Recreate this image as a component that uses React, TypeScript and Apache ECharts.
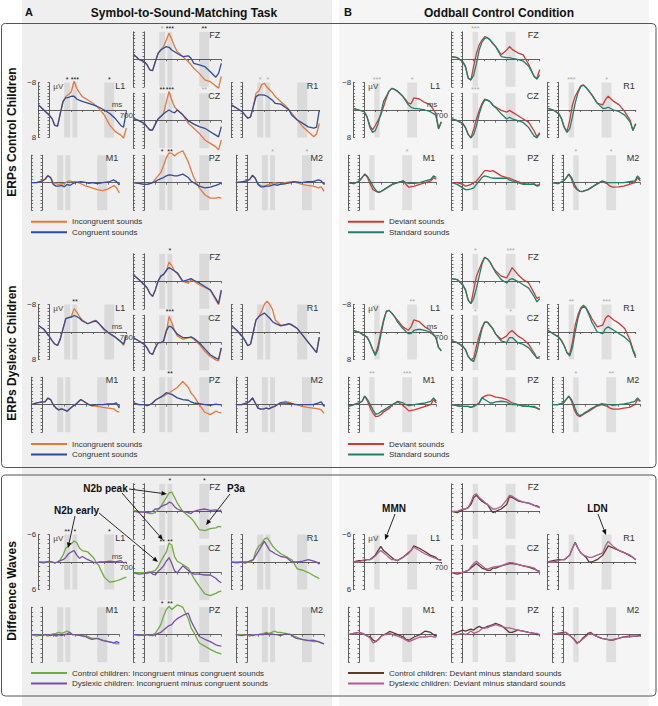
import React, { useEffect, useRef } from 'react';
import * as echarts from 'echarts';

// ---------- DATA ----------
const TIMES = [-100, -50, 0, 25, 50, 75, 100, 125, 150, 175, 200, 225, 250, 275, 300, 350, 400, 425, 450, 500, 550, 600, 650, 675, 700];
const ELECTRODES = ['FZ', 'L1', 'CZ', 'R1', 'M1', 'PZ', 'M2'];

// A: Symbol-to-sound matching, control children
const A_CTRL_INCONGRUENT = {
  FZ: [-1.5, 0, 0.7, 1.6, 3.1, 3.3, 0.7, -1.7, -2.7, -3.7, -5.6, -7.6, -5.8, -3.7, -2.2, -0.8, 0.7, 1.6, 2.6, 4.1, 6, 6.5, 7.8, 8.4, 5],
  L1: [-1.5, 0, 1.5, 2.5, 4.5, 4.7, 1, -2.5, -3.9, -4.5, -5.3, -8.4, -6.3, -5, -3.9, -2.9, -1.9, -1.2, -0.5, 1.5, 4.4, 6.3, 7.3, 8.2, 5.3],
  CZ: [-0.7, 0, 0.8, 1.8, 2.7, 2.7, 1, -0.5, -1.2, -2.1, -5.5, -8.5, -6, -4, -3.1, -1.7, 0.8, 1.5, 2.2, 3.7, 5.6, 6.6, 7.6, 8.5, 5.6],
  R1: [-1.5, -0.5, 0.5, 1.5, 2.4, 2, -1, -4.9, -5.5, -7.3, -7.8, -6.6, -5.8, -5, -3.9, -2.4, -1, 0, 1, 2.9, 4.9, 6.3, 7.8, 7, 3.9],
  M1: [0, 0, -0.5, -1, -2.2, -1.5, 0, 0.3, 0.5, 0.3, 0.3, -0.3, -0.5, -0.3, -0.3, 0.3, 1, 1.2, 1.5, 2, 2.3, 1.8, 0.8, 1.5, 3],
  PZ: [0, 0.2, 0.5, 0.5, 0.3, 0, -1, -2, -3, -5, -7.3, -8.7, -8.5, -7.8, -8.5, -9.3, -6, -3.7, -1.5, 1.5, 3.5, 4.5, 4.5, 4.3, 4.5],
  M2: [0, -0.2, -0.5, -1, -2, -1.3, 0.3, 0.8, 1, 0.8, 0.5, 0.3, 0, 0.3, 0.5, 0, -0.3, -0.2, 0, 0.5, 0.8, 1, 1.5, 1.2, 2.5],
};
const A_CTRL_CONGRUENT = {
  FZ: [-1.5, 0, 0.7, 1.6, 3.1, 3.3, 0.7, -1.7, -2.7, -3.2, -3.7, -3.5, -2.7, -2.2, -1.7, -0.8, -1, -0.3, 1.2, 1.6, 2.1, 3.6, 5.2, 4.1, 1.2],
  L1: [-1.5, 0, 1.5, 2.5, 4.5, 4.7, 1, -2.5, -3.5, -3.7, -4, -4, -3.2, -2.8, -2.5, -2, -1.5, -1.2, -0.8, 0, 1, 2.5, 4.5, 5, 0.5],
  CZ: [-0.7, 0, 0.8, 1.8, 2.7, 2.7, 1, -0.5, -1.2, -2, -2.6, -3.1, -2.6, -2.3, -3.1, -1.7, 0, 0.5, 1, 1.7, 2.2, 3.2, 4.2, 4.7, 1.7],
  R1: [-1.5, -0.5, 0.5, 1.5, 2.4, 2, -1, -3.9, -4.4, -4.4, -4.3, -4, -3.4, -2.8, -1.9, -1.7, -0.6, 0, 1.5, 2.9, 3.9, 4.9, 5.3, 5, 0],
  M1: [0, 0, -0.5, -1, -2, -1.5, 0.5, 1, 1, 0.8, 1.2, 0.5, 0.8, 0.3, 0, -0.3, 0, 0.2, 0, 0.3, 0, -0.2, -0.8, -0.3, 0.7],
  PZ: [0, 0.2, 0.5, 0.5, 0.3, 0, -0.3, -0.8, -1.2, -1.5, -2, -2.3, -2.2, -2, -2, -2.5, -1.5, -0.5, 0, 1, 1.5, 1.3, 0.8, 0.5, 0],
  M2: [0, -0.2, -0.5, -1, -2.2, -1.3, 0.5, 1.2, 1.2, 1, 1, 0.8, 0.5, 0.8, 0.5, 0.3, 0, -0.3, -0.2, 0, -0.3, -0.3, -0.8, -0.5, 0.5],
};
// A: dyslexic children
const A_DYS_INCONGRUENT = {
  FZ: [-1.9, -0.5, 1, 1.9, 3.5, 4.4, 2.5, 0, -1.5, -2, -3, -5.6, -4.5, -3, -2.2, 0, 0.5, -0.5, 0, 1, 1.8, 2.6, 5.5, 6.8, 2.9],
  L1: [-1.9, -0.8, 1.3, 2.5, 3.5, 3.9, 2, -1, -3.9, -4.2, -4.5, -6.8, -5.8, -4.5, -3.5, -2.4, -3.2, -3.4, -2.5, -0.5, 0.5, 1.5, 2.8, 3.9, 1.5],
  CZ: [-1.5, -0.5, 0.5, 1.5, 3, 3.4, 1.5, 0, 0, -0.5, -3, -7.6, -5.8, -3.5, -2, -1, -1.5, -1.5, -1, 0.5, 2.5, 4, 5, 5.3, 1.5],
  R1: [-1.9, -0.5, 1.3, 2.5, 4, 3.5, 0, -3.5, -4.5, -6, -8, -9, -8, -6.5, -3.5, -2, -2, -2.4, -2.2, -1, 1, 3, 5, 6, 1.5],
  M1: [0, -0.5, -0.8, -0.8, -1.9, -1.5, 0, 1, 1.5, 1.2, 1.5, 1.9, 1.2, 0.5, 0, -1.5, -0.5, 0, 0.3, 0.5, 0.8, 1, 1.2, 1.9, 2.2],
  PZ: [-0.5, 0, 0, 0.3, 0, -0.5, -1.3, -1.8, -2.2, -2.5, -3, -3.4, -4, -4.5, -5, -6.8, -5, -3.4, -2.5, 0, 2.2, 2.9, 1.9, 2.2, 2.4],
  M2: [0, 0, -0.5, -1, -2, -0.5, 1, 1.3, 1.2, 1, 1.2, 0.8, 0.5, 0, -0.5, -1, -0.5, 0, 0, 0.5, 0.8, 1, 1.2, 1.5, 2.5],
};
const A_DYS_CONGRUENT = {
  FZ: [-1.9, -0.5, 1, 1.9, 3.5, 4.4, 2.5, 0, -1.5, -2, -3.2, -4, -3.5, -3, -2.5, 0, -0.5, -0.8, -0.3, 0.5, 1.5, 2.5, 5, 6.5, 2.5],
  L1: [-1.9, -0.8, 1.3, 2.5, 3.5, 3.9, 2, -1, -3.9, -4.2, -4.3, -4.8, -4.5, -4, -3.2, -2.4, -3, -3.2, -2.5, -0.8, 0.5, 1.5, 2.8, 3.5, 1],
  CZ: [-1.5, -0.5, 0.5, 1.5, 3, 3.4, 1.5, 0, 0, -0.5, -3.5, -4.8, -4.5, -3.5, -2.5, -1.5, -1.5, -1.7, -1.3, 0, 1.8, 3.5, 4.5, 4.8, 1.5],
  R1: [-1.9, -0.5, 1.3, 2.5, 4, 3.5, 0, -3.5, -4.5, -5, -5.5, -4.8, -4, -3, -2.5, -1.8, -2.2, -2.4, -2, -1, 1, 3, 5, 6, 1.5],
  M1: [0, -0.5, -0.8, -0.8, -1.9, -1.5, 0, 1, 1.5, 1.2, 1.5, 1.9, 1.2, 0.5, 0, -1.5, -0.5, 0, 0.3, 0, 0, -0.2, -0.3, -0.5, 1],
  PZ: [-0.5, 0, 0, 0.3, 0, -0.5, -1.3, -1.8, -2.2, -2.8, -3.5, -3.2, -3, -2.5, -2, -1.5, -1.3, -0.8, -0.5, -0.3, 0, 0.2, -0.2, 0, 0],
  M2: [0, 0, -0.5, -1, -2, -0.5, 1, 1.3, 1.2, 1, 1.2, 0.8, 0.5, 0, -0.5, -0.5, -0.3, -0.2, 0, 0, 0, 0, -0.5, -0.8, 0.5],
};
// A: difference waves (incongruent minus congruent)
const A_DIFF_CONTROL = {
  FZ: [-0.2, 0, 0.1, 0.3, 0.5, 0.5, 0.2, -0.3, -1, -2, -3, -4, -4.2, -3, -1.8, 0, 1, 1.5, 2.2, 4, 4.2, 3.8, 3.6, 3.3, 3.4],
  L1: [0, 0, 0, 0, 0.2, 0, -0.5, -1.5, -3, -3.5, -4, -4.6, -4.2, -3, -2.5, -2.2, -1, 0, 0.8, 3.3, 4.4, 4.2, 3.8, 3.5, 3.3],
  CZ: [0, 0, 0, 0.2, 0, -0.3, -0.5, -1.3, -2.5, -3.5, -4.5, -6.5, -6, -3.5, -2.5, -1.8, -1, 0, 1.2, 3, 4.6, 5, 4.5, 4.2, 4],
  R1: [0, 0, 0, 0.3, 0, 0, -0.5, -2.5, -3.5, -4, -5, -5.3, -4.5, -3.5, -2.8, -1.8, -1.2, -0.8, -0.5, 1.5, 1.8, 2.3, 3, 3.3, 3.6],
  M1: [0, 0.3, 0, 0, 0.3, 0, -0.2, -0.3, -0.5, -0.3, -0.5, -0.8, -0.5, 0, 0, 0.2, 0.3, 0.5, 0.8, 0.8, 1.2, 1.5, 1.8, 2, 2],
  PZ: [0, 0.2, 0, 0, 0.2, 0, -0.3, -1.2, -2.2, -4, -5.5, -6.2, -5.5, -6, -6.5, -6, -3.5, -1.5, -0.5, 1.8, 2.5, 3.2, 3.8, 4, 4.2],
  M2: [0, 0, 0, 0.3, 0, 0, 0, -0.2, -0.3, -0.5, -0.3, -0.5, -0.8, -0.5, -0.5, -0.3, 0, 0.3, 0.5, 1, 1.2, 1.5, 1.5, 1.8, 2],
};
const A_DIFF_DYSLEXIC = {
  FZ: [0, 0.2, 0.2, 0.3, 0.2, 0, -0.5, -0.5, -1, -1.3, -1.5, -2, -1.8, -1, -0.5, 0, 0.3, 0.5, 0, -0.3, -0.5, -0.2, -0.3, 0, -0.3],
  L1: [0, 0.2, -0.2, 0, 0.2, 0, -0.3, -0.5, -1, -1.8, -2.2, -2.5, -1.5, -0.8, -1.2, -0.5, 0, 0.2, 0, 0, -0.2, 0, -0.3, 0.2, 0],
  CZ: [0, 0.3, 0.2, 0, -0.2, 0.3, 0.5, -0.3, -0.8, -1.5, -2.5, -3.3, -2, -0.4, 0, -1.5, -0.5, 0, 0.3, 0.3, 0.5, 0.5, 1.2, 1.8, 2.2],
  R1: [0, 0.2, 0, 0, 0, -0.3, -0.5, -1.5, -2.5, -3.5, -4.5, -3.5, -2.5, -2.2, -1.8, -1.2, -1, -0.5, 0, 0, -0.2, -0.5, -0.2, 0, 0.5],
  M1: [0, 0, 0.2, 0, 0, 0.2, 0, 0.3, 0, 0.2, 0, -0.2, -0.5, 0, 0, 0.2, 0.5, 0.8, 1, 0.8, 1.3, 1.5, 1.8, 1.5, 1.8],
  PZ: [0, 0, 0.2, 0, 0, 0.2, 0, -0.3, -0.5, -1, -1.5, -2, -2.2, -3, -3.5, -4.2, -4.7, -3, -1.8, 0.4, 1, 1.5, 2.2, 2.4, 2.5],
  M2: [0, 0.2, 0, 0, 0.2, 0, 0, 0, 0, -0.3, 0, -0.2, 0, 0, 0.2, -0.2, 0, 0.5, 0.8, 1, 1.3, 1.2, 1.5, 1.8, 2],
};
// B: Oddball control condition, control children
const B_CTRL_DEVIANT = {
  FZ: [-0.8, -0.5, 0.7, 2, 5.5, 6, 2, -1.7, -4.2, -5.6, -6.6, -6.3, -5.6, -4.6, -3.7, -1.3, -2.7, -3.7, -2.9, -1.9, -1.3, 1.5, 5, 5.5, 3],
  L1: [-0.5, 0, 0.5, 2, 4.5, 5.8, 4.5, 3, 1.5, -1, -3.4, -5.5, -6.3, -6, -5.5, -4, -2, -1.8, -3.5, -3.2, -2.2, -1.5, 1, 5.3, 3.4],
  CZ: [-0.5, 0, 0.8, 2, 4, 5, 2.5, -0.5, -3, -5, -6.3, -6, -5.5, -4.5, -4, -3, -2.5, -3, -2.5, -1.5, -0.5, 0.5, 3, 4.7, 3.5],
  R1: [-0.5, 0, 1, 2.5, 5, 6.3, 3, -1.5, -4, -5.5, -7, -7.3, -6.5, -5.5, -4.5, -2, -1.5, -3, -4, -2.5, -1.5, 0.5, 3, 6, 4],
  M1: [0, 0.3, -0.5, -1.5, -2.5, -1.5, 0.5, 2, 2.5, 2.8, 2.5, 2, 1.5, 1, 0.5, 0, -0.5, 0.5, 1.3, 1, 0.5, 0, -0.5, -1.5, -1],
  PZ: [0, 0, 0.5, 1, 0.8, 0.5, 0, -0.5, -1.5, -2.5, -3.5, -3.5, -3.3, -3.5, -3, -2, -1.5, -1.3, -1, -0.3, 0.2, 0.5, 0.3, 0.8, 0.5],
  M2: [0, 0.3, -0.5, -1.3, -2.5, -1, 1.2, 2, 2.5, 2.5, 2.2, 2, 1.5, 1, 0.5, -0.3, 0.3, 1, 1.3, 1.2, 1, 0.5, 0, -1.5, -0.5],
};
const B_CTRL_STANDARD = {
  FZ: [-0.8, -0.5, 0.7, 2.2, 5.5, 6, 4.6, 1.2, -2.7, -5, -6.1, -6.3, -5.6, -4.6, -3.7, -0.8, -0.5, -0.5, -0.3, 0, 0.5, 2, 5, 5.8, 4.5],
  L1: [-0.5, 0, 0.5, 2, 5, 6.5, 6, 4, 1, -2.5, -4, -5.5, -6.3, -6, -5.5, -4, -1.5, -0.8, -0.5, -0.3, 0, 0.5, 1.5, 5.5, 3.5],
  CZ: [-0.5, 0, 0.8, 2, 4, 5, 4, 1.5, -2, -4.5, -6, -6, -5.5, -4.5, -3.8, -2, -0.5, -1, -0.5, 0, 0.5, 2, 4.5, 5, 3.8],
  R1: [-0.5, 0, 1, 2.5, 5, 6.5, 5.5, 2, -2, -5, -6.8, -7.2, -6.5, -5.5, -4.5, -2, -0.5, -0.5, -0.8, 0, 0.5, 1.5, 3.5, 6, 4],
  M1: [0, 0.3, -0.5, -1.5, -2.5, -1.8, -0.5, 1, 2.2, 2.8, 2.5, 2, 1.5, 1, 0.5, 0, -0.5, 0, 0.2, 0.2, 0, -0.5, -1, -2, -1.5],
  PZ: [0, 0.5, 1.5, 2, 2, 1.8, 1.5, 0.5, -0.5, -1.5, -2, -1.8, -1.5, -1.3, -1.3, -1.3, -1.3, -0.8, -0.5, 0, 0.5, 0.5, 0.5, 1, 0.8],
  M2: [0, 0.3, -0.5, -1.3, -2.5, -1.5, 0.5, 1.8, 2.5, 2.6, 2.3, 2, 1.5, 1, 0.5, -0.5, 0, 0, 0, 0, 0, -0.3, -0.5, -2, -1],
};
// B: dyslexic children
const B_DYS_DEVIANT = {
  FZ: [-0.8, -0.5, 1, 2.5, 5.5, 6.5, 2.5, -1.5, -3.5, -5.5, -7, -6.5, -5.5, -4, -3, -1.5, -1, -2.5, -4, -2, -0.5, 0.5, 3.5, 5, 4.5],
  L1: [-0.5, 0, 1, 1.5, 3, 5, 6.5, 4, 0, -3.5, -6, -6.3, -5.5, -4.5, -3.5, -1.5, -0.5, -1.5, -3.5, -3, -1.5, -0.5, 1.5, 4.5, 5.5],
  CZ: [-0.5, 0, 1, 2, 4, 5, 4.5, 1, -2, -4.5, -6, -6, -5, -4, -2.5, -1, -2, -3, -3.5, -2, -1, 0.5, 3, 4.5, 4],
  R1: [-0.5, 0.5, 1.5, 2.5, 4, 6, 6.5, 3, -2, -5, -7, -7.8, -7, -5.5, -4, -1.5, -2, -4, -4.8, -3.5, -2.5, -1, 2.5, 5, 7],
  M1: [0.5, 0, -0.5, -1, -2.5, -1, 1, 2.5, 3.5, 3.3, 2.8, 2, 1.5, 1, 0, -0.8, 0.3, 1, 1.8, 1.5, 1, 0.5, 0, -1.5, -0.5],
  PZ: [0, 0.3, 0.5, 0.5, 0.5, 0.8, 0.5, 0, -0.5, -2, -2.5, -2.8, -2.8, -2.5, -2.2, -2, -1.5, -1, -0.5, 0, 0.3, 0.5, 0.8, 1, 1.5],
  M2: [0, 0, -0.5, -1.5, -2.5, -1, 1.5, 3, 3.5, 3, 2.5, 2, 1.5, 1, 0.5, 0, 0.5, 1, 1.3, 1.3, 1, 0.8, 0, -1.5, -1],
};
const B_DYS_STANDARD = {
  FZ: [-0.8, -0.5, 1, 2.5, 5.5, 6.5, 5, 2, -1.5, -5, -7, -6.5, -5.5, -4, -2.5, -0.5, 0.5, -0.5, -0.8, 0, 1, 2, 4.5, 6, 5],
  L1: [-0.5, 0, 1, 1.5, 3, 5, 6.8, 5, 1, -3, -6, -6.3, -5.5, -4.5, -3, -1, 0.5, 0.5, -0.5, -0.8, -0.5, 0, 1.5, 4.5, 5.5],
  CZ: [-0.5, 0, 1, 2, 4, 5, 5.5, 3, -0.5, -4, -6, -6, -5, -4, -2.5, -0.5, 0, -1.5, -1.5, 0, 0.5, 1.5, 3.5, 4.5, 4.5],
  R1: [-0.5, 0.5, 1.5, 2.5, 4, 6, 7, 4.5, 0, -4, -6.5, -7.5, -6.8, -5, -3, 0, 0.5, -1, -1.5, -0.5, 0.5, 1.5, 3, 5.5, 7.5],
  M1: [0.5, 0, -0.5, -1, -2.5, -1.5, 0, 1.5, 2.8, 2.5, 2, 1.5, 1, 0.5, 0, -1, -0.5, 0, 0.3, 0, -0.3, -0.5, -1, -2, -1],
  PZ: [0, 0.3, 0.5, 0.5, 0.5, 0.8, 0.5, 0, -0.5, -2, -1.5, -1, -0.5, -0.5, -0.8, -1, -0.8, -0.3, 0, 0, 0.5, 0.5, 0.5, 1, 1.2],
  M2: [0, 0, -0.5, -1.5, -2.5, -1.5, 0.5, 2.5, 3.2, 2.8, 2.2, 1.8, 1.2, 0.8, 0.3, -0.3, 0, 0, 0.2, 0, -0.2, -0.5, -1, -2, -1],
};
// B: difference waves (deviant minus standard)
const B_DIFF_CONTROL = {
  FZ: [0, 0.3, -0.3, -0.5, -0.8, -1.5, -3, -3.5, -2.8, -2.2, -1.8, -1.5, -0.5, 0.3, 0, -0.5, -1.5, -3.2, -3, -2.3, -2, -1.8, -1.3, -1.2, -0.8],
  L1: [0, -0.3, -0.3, -0.5, -0.5, -1, -1.5, -2.5, -3.4, -2.5, -2, -1.5, -1, -0.5, -0.3, -1, -2, -2.5, -3.5, -3, -2.3, -1.5, -1, -0.5, -0.5],
  CZ: [0, 0.3, 0, -0.3, -0.5, -1, -1.5, -2, -1.5, -1, -0.8, -0.5, -0.5, -1, -1, -1.5, -1.8, -2, -2, -1.8, -1.5, -1.2, -0.8, -0.5, -0.3],
  R1: [0, -0.3, -0.5, -0.5, -0.5, -1, -1.5, -3, -4.3, -3, -2, -1.5, -1, 0, 0, -0.5, -1.5, -2.5, -3.5, -3, -2.5, -2, -1.3, -1, -0.5],
  M1: [0, -0.3, -0.5, -0.3, 0, 0.3, 0.5, 1.2, 1.5, 1, 0.3, 0, -0.3, -0.7, -0.5, 0, 0.5, 1, 1.2, 0.5, 0, -0.8, -0.5, 0, 0.3],
  PZ: [0, -0.5, -1, -0.8, -1, -1.2, -1, -1.5, -1.8, -1.5, -1.5, -1.8, -2, -2.2, -2.5, -2, -1, -0.5, -0.5, -1, -0.8, -0.5, -0.3, 0, 0],
  M2: [0, -0.3, -0.5, -0.5, 0, 0.5, 1, 1.8, 1.5, 0.8, 0.3, -0.3, -0.5, 0, 0.3, 0.8, 1, 1.2, 1.2, 0.8, 0.5, 0.3, 0.3, 0.3, 0],
};
const B_DIFF_DYSLEXIC = {
  FZ: [0, 0, -0.5, -0.5, -0.8, -2, -3.5, -3.8, -3, -2.5, -2, -1.5, -1, -0.5, -0.5, -1, -2.5, -3.5, -3.3, -2.5, -2, -1.8, -1.3, -1, -0.8],
  L1: [0, 0, -0.5, -0.5, -0.5, -0.8, -1.3, -2, -2.5, -2, -1.5, -1, -0.5, -0.5, -0.3, -1, -1.8, -2.5, -3.3, -2.5, -1.8, -1.2, -0.8, -0.5, -0.3],
  CZ: [0, 0, 0, -0.3, -0.5, -1.3, -2, -2.5, -2, -1.5, -1, -0.8, -1, -1.2, -1.3, -1.5, -2, -2.2, -2.2, -1.8, -1.5, -1.3, -1, -0.5, 0],
  R1: [0, 0, -0.3, -0.5, -0.5, -1, -1.5, -3, -4.2, -3, -2, -1.5, -1.3, -1, -1, -1.5, -2, -3.5, -4.5, -3.3, -2.5, -2, -1.5, -1, -0.5],
  M1: [0, -0.3, -0.5, -0.3, 0, 0.3, 0.8, 1.8, 1.5, 1, 0.3, 0, 0, -0.3, 0, 0.3, 0.8, 1.2, 1.5, 1, 0.5, 0.5, 0.3, 0.5, 0.5],
  PZ: [0, 0, -0.3, 0, -0.3, -0.8, -0.3, -0.5, -0.8, -1.3, -1.5, -1.5, -1.8, -2, -2.2, -1.8, -1.5, -1.5, -1.3, -1, -0.8, -0.5, -0.3, -0.3, 0],
  M2: [0, -0.3, -0.3, -0.5, 0, 0.5, 1.2, 2, 1.5, 1, 0.5, 0, -0.3, 0, 0.3, 0.8, 1, 1.2, 1, 0.8, 0.5, 0.5, 0.3, 0.3, 0.3],
};

// analysis time windows (ms)
const WINDOWS_A = [[135, 190], [210, 255], [500, 590]];
const WINDOWS_B = [[90, 140], [390, 480]];

// significance marks per window ("~" = grey mark)
const STARS_A_CTRL = { FZ: ['~*', '***', '**'], L1: ['*', '***', '*'], CZ: ['**', '***', '~**'], R1: ['~*', '~*', ''], PZ: ['*', '**', ''], M2: ['', '~*', '~*'] };
const STARS_A_DYS = { FZ: ['', '*', ''], L1: ['', '**', ''], CZ: ['', '***', ''], PZ: ['', '**', ''] };
const STARS_A_DIFF = { FZ: ['', '*', '*'], L1: ['**', '*', '*'], CZ: ['**', '**', ''], PZ: ['*', '**', ''] };
const STARS_B_CTRL = { FZ: ['~***', ''], L1: ['~***', '~*'], CZ: ['~***', ''], R1: ['~***', '~*'], M1: ['', '~*'], M2: ['~*', '~*'] };
const STARS_B_DYS = { FZ: ['~*', '~***'], L1: ['', '~**'], CZ: ['~*', '~*'], R1: ['~**', '~***'], M1: ['~**', '~***'], M2: ['~*', '~**'] };
const STARS_B_DIFF = {};

// ---------- STYLE / LAYOUT ----------
const FONT = '"Liberation Sans", Arial, Helvetica, sans-serif';
const AXIS = '#505050';
const ORANGE = '#e8783a';
const BLUE = '#2f4c9a';
const RED = '#d03a35';
const TEAL = '#22806a';
const GREEN = '#6cae3e';
const PURPLE = '#7a4ea3';
const BROWN = '#5a3c2a';
const PINK = '#b45c94';

const POS_A: Record<string, number[]> = {
  FZ: [144.3, 59.3], L1: [49.3, 110], CZ: [144.3, 120.7], R1: [242.3, 110],
  M1: [42.3, 182.7], PZ: [144.3, 182.7], M2: [247, 182.7],
};
const POS_B_X: Record<string, number> = { FZ: 462.7, L1: 364.3, CZ: 462.7, R1: 558.7, M1: 359.3, PZ: 462.7, M2: 563.3 };
const ROW_DY = [0, 222, 452];
const PX_PER_100MS = 11;
const HALF_H = 27.5;

const PANELS = [
  { col: 0, row: 0, s: [A_CTRL_INCONGRUENT, A_CTRL_CONGRUENT], names: ['Incongruent sounds', 'Congruent sounds'], colors: [ORANGE, BLUE], range: 8, wins: WINDOWS_A, stars: STARS_A_CTRL, ms: true },
  { col: 0, row: 1, s: [A_DYS_INCONGRUENT, A_DYS_CONGRUENT], names: ['Incongruent sounds', 'Congruent sounds'], colors: [ORANGE, BLUE], range: 8, wins: WINDOWS_A, stars: STARS_A_DYS, ms: true },
  { col: 0, row: 2, s: [A_DIFF_CONTROL, A_DIFF_DYSLEXIC], names: ['Control children: Incongruent minus congruent sounds', 'Dyslexic children: Incongruent minus congruent sounds'], colors: [GREEN, PURPLE], range: 6, wins: WINDOWS_A, stars: STARS_A_DIFF, ms: true },
  { col: 1, row: 0, s: [B_CTRL_DEVIANT, B_CTRL_STANDARD], names: ['Deviant sounds', 'Standard sounds'], colors: [RED, TEAL], range: 8, wins: WINDOWS_B, stars: STARS_B_CTRL, ms: true },
  { col: 1, row: 1, s: [B_DYS_DEVIANT, B_DYS_STANDARD], names: ['Deviant sounds', 'Standard sounds'], colors: [RED, TEAL], range: 8, wins: WINDOWS_B, stars: STARS_B_DYS, ms: true },
  { col: 1, row: 2, s: [B_DIFF_CONTROL, B_DIFF_DYSLEXIC], names: ['Control children: Deviant minus standard sounds', 'Dyslexic children: Deviant minus standard sounds'], colors: [BROWN, PINK], range: 6, wins: WINDOWS_B, stars: STARS_B_DIFF, ms: false },
];
const LEGEND_CENTERS = [222, 444.3, 673.3];

function txt(text: string, x: number, y: number, o: any = {}) {
  return {
    type: 'text', x, y, z: 100, rotation: o.rotation || 0,
    style: {
      text, fill: o.color || '#333', align: o.align || 'left', verticalAlign: 'middle',
      textAlign: o.align || 'left', textVerticalAlign: 'middle',
      font: `${o.bold ? 'bold ' : ''}${o.size || 8}px ${FONT}`,
    },
  };
}

function arrow(x1: number, y1: number, x2: number, y2: number) {
  const a = Math.atan2(y2 - y1, x2 - x1);
  const L = 5.5, W = 2.3;
  const bx = x2 - L * Math.cos(a), by = y2 - L * Math.sin(a);
  const px = -Math.sin(a) * W, py = Math.cos(a) * W;
  return [
    { type: 'line', z: 100, shape: { x1, y1, x2: bx, y2: by }, style: { stroke: '#111', lineWidth: 0.9 } },
    { type: 'polygon', z: 100, shape: { points: [[x2, y2], [bx + px, by + py], [bx - px, by - py]] }, style: { fill: '#111' } },
  ];
}

function buildOption() {
  const grid: any[] = [], xAxis: any[] = [], yAxis: any[] = [], series: any[] = [], legend: any[] = [];
  const graphic: any[] = [
    { type: 'rect', z: -100, shape: { x: 22, y: 0, width: 310, height: 706 }, style: { fill: '#efefef' } },
    { type: 'rect', z: -100, shape: { x: 339, y: 0, width: 310, height: 706 }, style: { fill: '#f5f5f5' } },
    { type: 'rect', z: -90, shape: { x: 1.5, y: 23.5, width: 654.5, height: 444, r: 4 }, style: { fill: 'none', stroke: '#555', lineWidth: 1 } },
    { type: 'rect', z: -90, shape: { x: 1.5, y: 475, width: 654.5, height: 221, r: 4 }, style: { fill: 'none', stroke: '#555', lineWidth: 1 } },
    txt('A', 25, 12, { bold: true, size: 11, color: '#111' }),
    txt('Symbol-to-Sound-Matching Task', 184, 13, { bold: true, size: 12, color: '#111', align: 'center' }),
    txt('B', 344, 12, { bold: true, size: 11, color: '#111' }),
    txt('Oddball Control Condition', 499, 13, { bold: true, size: 12, color: '#111', align: 'center' }),
    txt('ERPs Control Children', 12, 132, { bold: true, size: 12, color: '#111', align: 'center', rotation: Math.PI / 2 }),
    txt('ERPs Dyslexic Children', 12, 353, { bold: true, size: 12, color: '#111', align: 'center', rotation: Math.PI / 2 }),
    txt('Difference Waves', 12, 591, { bold: true, size: 12, color: '#111', align: 'center', rotation: Math.PI / 2 }),
    // annotations
    txt('N2b peak', 105.5, 488, { bold: true, size: 10, color: '#111', align: 'center' }),
    txt('N2b early', 76.5, 510, { bold: true, size: 10, color: '#111', align: 'center' }),
    txt('P3a', 236, 488, { bold: true, size: 10, color: '#111', align: 'center' }),
    txt('MMN', 394, 508, { bold: true, size: 10, color: '#111', align: 'center' }),
    txt('LDN', 597.5, 508, { bold: true, size: 10, color: '#111', align: 'center' }),
    ...arrow(129, 489, 167, 494),
    ...arrow(122, 493, 163, 540),
    ...arrow(75, 516, 68, 548),
    ...arrow(99, 513, 158, 562),
    ...arrow(230, 494, 206, 525),
    ...arrow(395, 514, 385, 540),
    ...arrow(598, 514, 606, 535),
  ];

  PANELS.forEach((p) => {
    ELECTRODES.forEach((e) => {
      const x0 = p.col === 0 ? POS_A[e][0] : POS_B_X[e];
      const zy = POS_A[e][1] + ROW_DY[p.row];
      const left = x0 - PX_PER_100MS;
      const top = zy - HALF_H;
      const gi = grid.length;
      const isL1 = e === 'L1';
      grid.push({ left, top, width: PX_PER_100MS * 8, height: HALF_H * 2 });
      xAxis.push({
        gridIndex: gi, type: 'value', min: -100, max: 700, interval: 100,
        axisLine: { onZero: true, lineStyle: { color: AXIS, width: 0.9 } },
        axisTick: { show: true, length: 2, lineStyle: { color: AXIS, width: 0.8 } },
        axisLabel: { show: false },
        splitLine: { show: false },
      });
      const yBase = {
        gridIndex: gi, type: 'value', min: -p.range, max: p.range, interval: 1, inverse: true, position: 'left',
        axisLine: { onZero: true, lineStyle: { color: AXIS, width: 0.9 } },
        splitLine: { show: false },
      };
      yAxis.push({
        ...yBase,
        axisTick: { show: true, length: 1.8, lineStyle: { color: AXIS, width: 0.8 } },
        axisLabel: {
          show: isL1, margin: 2, fontSize: 8, color: '#333', fontFamily: FONT,
          formatter: (v: number) => (v === -p.range ? '\u2212' + p.range : v === p.range ? String(p.range) : ''),
        },
      });
      yAxis.push({
        ...yBase,
        axisTick: { show: true, inside: true, length: 1.8, lineStyle: { color: AXIS, width: 0.8 } },
        axisLabel: { show: false },
      });
      const starList: string[] = (p.stars as any)[e] || [];
      p.s.forEach((set: any, si: number) => {
        const vals: number[] = set[e];
        const s: any = {
          type: 'line', name: p.names[si], xAxisIndex: gi, yAxisIndex: gi * 2,
          data: TIMES.map((t, i) => [t, vals[i]]),
          symbol: 'none', showSymbol: false, clip: false, silent: true,
          lineStyle: { color: p.colors[si], width: 1.3 }, itemStyle: { color: p.colors[si] },
          z: 3 + si,
        };
        if (si === 0) {
          s.markArea = {
            silent: true,
            itemStyle: { color: 'rgba(0,0,0,0.085)' },
            label: { show: true, position: 'top', distance: 0, fontSize: 7, fontFamily: FONT, formatter: '{b}' },
            data: p.wins.map((w, k) => {
              const st = starList[k] || '';
              const grey = st.startsWith('~');
              return [
                { name: grey ? st.slice(1) : st, xAxis: w[0], label: { color: grey ? '#a8a8a8' : '#111' } },
                { xAxis: w[1] },
              ];
            }),
          };
        }
        series.push(s);
      });
      // electrode label
      graphic.push(txt(e, left + PX_PER_100MS * 8 - 1, top + 3, { size: 9, align: 'right', color: '#333' }));
      if (isL1) {
        graphic.push(txt('\u00b5V', x0 + 4, top + 3.5, { size: 8, color: '#444' }));
        graphic.push(txt('700', x0 + PX_PER_100MS * 7, zy + 5.5, { size: 8, align: 'center', color: '#444' }));
        if (p.ms) graphic.push(txt('ms', left + PX_PER_100MS * 8 - 4, zy - 6, { size: 8, align: 'right', color: '#444' }));
      }
    });
    legend.push({
      data: p.names, orient: 'vertical', left: p.col === 0 ? 31 : 348, top: LEGEND_CENTERS[p.row] - 5.3,
      icon: 'rect', itemWidth: 36, itemHeight: 2, itemGap: 0.6, padding: 0, selectedMode: false,
      textStyle: { fontSize: 8, color: '#333', fontFamily: FONT, lineHeight: 10, padding: [0, 0, 0, 0] },
    });
  });

  return {
    animation: false,
    backgroundColor: '#ffffff',
    textStyle: { fontFamily: FONT },
    grid, xAxis, yAxis, series, legend, graphic,
  };
}

export default function App() {
  const ref = useRef<HTMLDivElement>(null);
  useEffect(() => {
    if (!ref.current) return;
    const chart = echarts.init(ref.current, null, { renderer: 'svg' });
    chart.setOption(buildOption() as any);
    return () => chart.dispose();
  }, []);
  return <div ref={ref} style={{ position: 'absolute', left: 0, top: 0, width: 658, height: 706 }} />;
}
